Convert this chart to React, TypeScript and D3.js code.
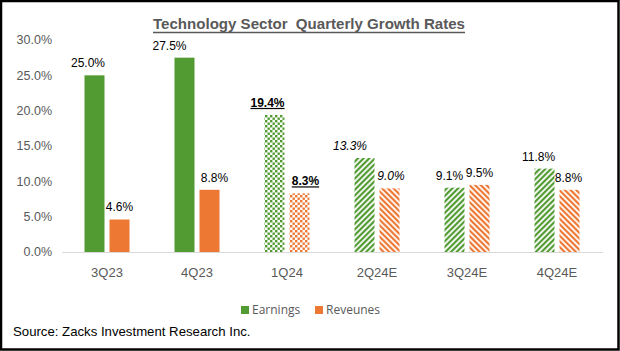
import React from "react";
import * as d3 from "d3";

const categories = ["3Q23", "4Q23", "1Q24", "2Q24E", "3Q24E", "4Q24E"];
const earnings = [25.0, 27.5, 19.4, 13.3, 9.1, 11.8];
const revenues = [4.6, 8.8, 8.3, 9.0, 9.5, 8.8];
const yTicks = [0, 5, 10, 15, 20, 25, 30];
// fill style per category: solid (actual), dots (latest), stripes (estimate)
const fillKind = ["solid", "solid", "dots", "stripes", "stripes", "stripes"];
// label style per category
const labelKind = ["normal", "normal", "bold", "italic", "normal", "normal"];
const earnLabelDx = [-6.5, -15, -7, -14.5, -5, -6];
const revLabelDx = [0, 5, 6, 1.5, 0, -1];

const GREEN = "#529b33";
const ORANGE = "#ec7833";
const GREY = "#595959";

export default function App() {
  const W = 620;
  const H = 351;
  const x = d3.scaleBand<string>().domain(categories).range([62, 602]);
  const y = d3.scaleLinear().domain([0, 30]).range([252, 40]);
  const bw = 20;
  const gap = 2.5;

  const fillFor = (kind: string, series: "e" | "r") => {
    if (kind === "solid") return series === "e" ? GREEN : ORANGE;
    if (kind === "dots") return series === "e" ? "url(#dotsG)" : "url(#dotsO)";
    return series === "e" ? "url(#stripeG)" : "url(#stripeO)";
  };

  const labelStyle = (k: string): React.CSSProperties => ({
    fontWeight: k === "bold" ? "bold" : "normal",
    fontStyle: k === "italic" ? "italic" : "normal",
    textDecoration: k === "bold" ? "underline" : "none",
  });

  return (
    <div style={{ position: "fixed", left: 0, top: 0 }}>
      <svg width={W} height={H} style={{ display: "block", fontFamily: "'Liberation Sans', Arial, sans-serif" }}>
        <defs>
          <pattern id="dotsG" width="5" height="5" patternUnits="userSpaceOnUse">
            <rect width="5" height="5" fill="#fff" />
            <rect x="0" y="0" width="2.4" height="2.4" fill={GREEN} />
            <rect x="2.5" y="2.5" width="2.4" height="2.4" fill={GREEN} />
          </pattern>
          <pattern id="dotsO" width="5" height="5" patternUnits="userSpaceOnUse">
            <rect width="5" height="5" fill="#fff" />
            <rect x="0" y="0" width="2.4" height="2.4" fill={ORANGE} />
            <rect x="2.5" y="2.5" width="2.4" height="2.4" fill={ORANGE} />
          </pattern>
          <pattern id="stripeG" width="4" height="4" patternUnits="userSpaceOnUse" patternTransform="rotate(45)">
            <rect width="4" height="4" fill="#fff" />
            <rect x="0" y="0" width="2.2" height="4" fill={GREEN} />
          </pattern>
          <pattern id="stripeO" width="4" height="4" patternUnits="userSpaceOnUse" patternTransform="rotate(-45)">
            <rect width="4" height="4" fill="#fff" />
            <rect x="0" y="0" width="2.2" height="4" fill={ORANGE} />
          </pattern>
        </defs>
        <rect x={0} y={0} width={W} height={H} fill="#fff" />

        {/* title */}
        <text
          x={153}
          y={29}
          fontSize={15}
          fontWeight="bold"
          fill={GREY}
          textLength={312}
          lengthAdjust="spacingAndGlyphs"
          style={{ whiteSpace: "pre" }}
        >
          {"Technology Sector  Quarterly Growth Rates"}
        </text>
        <line x1={153} x2={465} y1={32.5} y2={32.5} stroke={GREY} strokeWidth={1.3} />

        {/* y axis labels */}
        {yTicks.map((t) => (
          <text key={t} x={52} y={y(t)} dy="0.35em" textAnchor="end" fontSize={12.5} fill={GREY}>
            {t.toFixed(1) + "%"}
          </text>
        ))}

        {/* baseline */}
        <line x1={62} x2={603} y1={y(0) + 0.5} y2={y(0) + 0.5} stroke="#d9d9d9" strokeWidth={1} />

        {/* bars */}
        {categories.map((c, i) => {
          const cx = (x(c) as number) + x.bandwidth() / 2;
          const ex = cx - gap - bw;
          const rx = cx + gap;
          return (
            <g key={c}>
              <rect x={ex} y={y(earnings[i])} width={bw} height={y(0) - y(earnings[i])} fill={fillFor(fillKind[i], "e")} />
              <rect x={rx} y={y(revenues[i])} width={bw} height={y(0) - y(revenues[i])} fill={fillFor(fillKind[i], "r")} />
              <text
                x={ex + bw / 2 + earnLabelDx[i]}
                y={y(earnings[i]) - 8}
                textAnchor="middle"
                fontSize={12}
                fill="#000"
                style={labelStyle(labelKind[i])}
              >
                {earnings[i].toFixed(1) + "%"}
              </text>
              <text
                x={rx + bw / 2 + revLabelDx[i]}
                y={y(revenues[i]) - 8}
                textAnchor="middle"
                fontSize={12}
                fill="#000"
                style={labelStyle(labelKind[i])}
              >
                {revenues[i].toFixed(1) + "%"}
              </text>
              <text x={cx} y={277} textAnchor="middle" fontSize={13} fill={GREY}>
                {c}
              </text>
            </g>
          );
        })}

        {/* legend */}
        <rect x={241} y={306} width={8} height={8} fill={GREEN} />
        <text x={252} y={314} fontSize={12} fill={GREY} fontFamily="'Open Sans', 'Noto Sans', sans-serif">
          Earnings
        </text>
        <rect x={315} y={306} width={8} height={8} fill={ORANGE} />
        <text x={326} y={314} fontSize={12} fill={GREY} fontFamily="'Open Sans', 'Noto Sans', sans-serif">
          Reveunes
        </text>

        {/* source */}
        <text x={13} y={336} fontSize={13.2} fill="#000">
          Source: Zacks Investment Research Inc.
        </text>

        {/* frame */}
        <rect x={1} y={1} width={W - 2.5} height={H - 2.5} fill="none" stroke="#000" strokeWidth={2.5} />
      </svg>
    </div>
  );
}
